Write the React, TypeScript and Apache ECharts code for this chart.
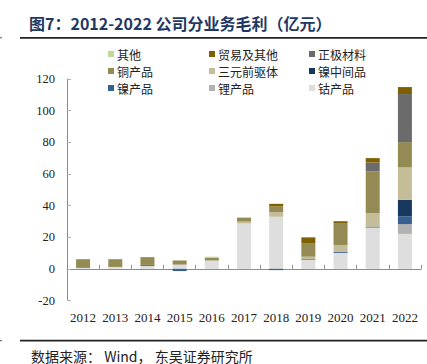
import React, { useEffect, useRef } from "react";
import * as echarts from "echarts";

const years = ["2012", "2013", "2014", "2015", "2016", "2017", "2018", "2019", "2020", "2021", "2022"];
const cobalt = [0.6, 1.2, 1.9, 2.7, 5.3, 28.7, 32.9, 5.8, 10.1, 26.1, 22.1];
const lithium = [0, 0, 0, 0, 0, 0, 0, 0, 0, 0, 6.2];
const nickelProduct = [0, 0, 0.6, -1.4, 0, 0, -0.8, 0.4, 0.8, 0.6, 4.8];
const nickelIntermediate = [0, 0, 0, 0, 0, 0, 0, 0, 0, 0, 10.5];
const precursor = [0, 0, 0, 0, 0, 1.2, 2.9, 1.5, 4.2, 8.5, 20.5];
const copper = [5.5, 4.9, 4.9, 2.6, 1.8, 2.3, 3.6, 8.6, 13.5, 26.5, 16.0];
const cathode = [0, 0, 0, 0, 0, 0, 0, 0, 0, 5.5, 30.4];
const trade = [0, 0, 0, 0, 0, 0, 1.7, 3.6, 1.5, 2.8, 4.4];
const other = [0, 0, 0, 0, 0.6, 0.5, 0, 0, 0, 0, 0];

const yTicks = [-20, 0, 20, 40, 60, 80, 100, 120];

const seriesDefs = [
  { name: "钴产品", data: cobalt, color: "#dedede" },
  { name: "锂产品", data: lithium, color: "#b2b2b2" },
  { name: "镍产品", data: nickelProduct, color: "#376092" },
  { name: "镍中间品", data: nickelIntermediate, color: "#17375e" },
  { name: "三元前驱体", data: precursor, color: "#c4bd97" },
  { name: "铜产品", data: copper, color: "#948a54" },
  { name: "正极材料", data: cathode, color: "#6b6b6b" },
  { name: "贸易及其他", data: trade, color: "#7f6000" },
  { name: "其他", data: other, color: "#c3d69b" },
];

const legendLayout = [
  ["其他", 108, 48],
  ["贸易及其他", 209, 48],
  ["正极材料", 309, 48],
  ["铜产品", 108, 65],
  ["三元前驱体", 209, 65],
  ["镍中间品", 309, 65],
  ["镍产品", 108, 82],
  ["锂产品", 209, 82],
  ["钴产品", 309, 82],
];

const cjk = "'Noto Sans CJK SC', sans-serif";
const serif = "'Liberation Serif', 'Times New Roman', serif";

export default function App() {
  const ref = useRef<HTMLDivElement>(null);
  useEffect(() => {
    const chart = echarts.init(ref.current!, null, { renderer: "svg" });
    chart.setOption({
      animation: false,
      backgroundColor: "#ffffff",
      grid: { left: 67, right: 6, top: 79, bottom: 63.5, containLabel: false },
      legend: legendLayout.map(([name, left, top]) => ({
        data: [name],
        left,
        top,
        itemWidth: 6,
        itemHeight: 6,
        itemGap: 0,
        padding: 0,
        icon: "rect",
        selectedMode: false,
        textStyle: { fontFamily: cjk, fontSize: 12, color: "#222", padding: [0, 0, 0, -2] },
      })),
      xAxis: {
        type: "category",
        data: years,
        axisLine: { onZero: true, lineStyle: { color: "#8c8c8c", width: 1 } },
        axisTick: { show: true, inside: true, length: 4, lineStyle: { color: "#8c8c8c" } },
        axisLabel: { fontFamily: serif, fontSize: 13, color: "#222", margin: 10, interval: 0 },
      },
      yAxis: {
        type: "value",
        min: -20,
        max: 120,
        interval: 20,
        splitLine: { show: false },
        axisLine: { show: true, lineStyle: { color: "#8c8c8c", width: 1 } },
        axisTick: { show: true, inside: true, length: 4, lineStyle: { color: "#b0b0b0" } },
        axisLabel: {
          fontFamily: serif,
          fontSize: 12.5,
          color: "#222",
          margin: 12,
          formatter: (v: number) => (yTicks.includes(v) ? String(v) : ""),
        },
      },
      series: seriesDefs.map((s) => ({
        name: s.name,
        type: "bar",
        stack: "total",
        data: s.data,
        barWidth: 14,
        itemStyle: { color: s.color },
      })),
      graphic: [
        {
          type: "text",
          x: 29,
          y: 22.5,
          style: {
            text: "图7：2012-2022 公司分业务毛利（亿元）",
            fontFamily: cjk,
            fontSize: 16,
            fontWeight: "bold",
            fill: "#1f3864",
            verticalAlign: "middle",
          },
        },
        { type: "line", shape: { x1: 20, y1: 37.8, x2: 427, y2: 37.8 }, style: { stroke: "#222", lineWidth: 1.8 } },
        { type: "line", shape: { x1: 0, y1: 37.8, x2: 2, y2: 37.8 }, style: { stroke: "#555", lineWidth: 1 } },
        { type: "line", shape: { x1: 20, y1: 340.7, x2: 427, y2: 340.7 }, style: { stroke: "#222", lineWidth: 1.8 } },
        { type: "line", shape: { x1: 0, y1: 340.7, x2: 2, y2: 340.7 }, style: { stroke: "#555", lineWidth: 1 } },
        {
          type: "text",
          x: 31,
          y: 355.5,
          style: {
            text: "数据来源： Wind， 东吴证券研究所",
            fontFamily: cjk,
            fontSize: 14,
            lineHeight: 14,
            fill: "#222",
            verticalAlign: "middle",
          },
        },
      ],
    });
    return () => chart.dispose();
  }, []);
  return <div ref={ref} style={{ position: "fixed", left: 0, top: 0, width: 427, height: 364 }} />;
}
